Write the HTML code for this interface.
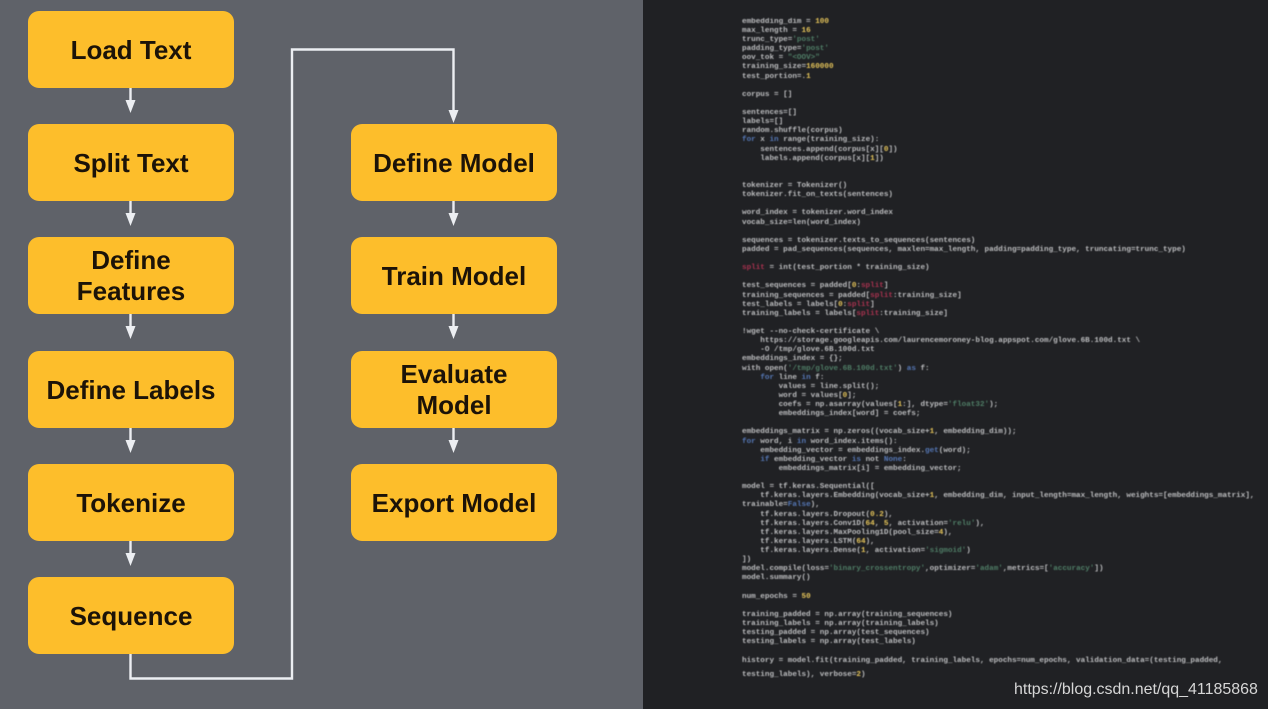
<!DOCTYPE html>
<html><head><meta charset="utf-8"><style>
html,body{margin:0;padding:0;width:1268px;height:709px;overflow:hidden;background:#202124}
#l{position:absolute;left:0;top:0;width:643px;height:709px;background:#5f6269}
.b{position:absolute;box-sizing:border-box;padding-top:1px;width:206px;height:77px;background:#fdbe2b;border-radius:11px;display:flex;align-items:center;justify-content:center;text-align:center;font:bold 26px/31px "Liberation Sans",sans-serif;color:#1c1308;filter:blur(.3px)}
svg{position:absolute;left:0;top:0;filter:blur(.3px)}
pre{position:absolute;left:742px;top:17.8px;margin:0;font:bold 7.63px/9.13px "Liberation Mono",monospace;color:#bdbec0;filter:blur(.45px)}
.n{color:#e6c55a}.s{color:#4f7d66}.k{color:#5577b5}.r{color:#a8324f}
#w{position:absolute;left:1014px;top:680px;font:15.97px/20px "Liberation Sans",sans-serif;color:#d6d6d6;white-space:nowrap}
</style></head><body>
<div id="l"></div>
<div class="b" style="left:28px;top:11px">Load Text</div>
<div class="b" style="left:28px;top:124px">Split Text</div>
<div class="b" style="left:28px;top:237px">Define<br>Features</div>
<div class="b" style="left:28px;top:351px">Define Labels</div>
<div class="b" style="left:28px;top:464px">Tokenize</div>
<div class="b" style="left:28px;top:577px">Sequence</div>
<div class="b" style="left:351px;top:124px">Define Model</div>
<div class="b" style="left:351px;top:237px">Train Model</div>
<div class="b" style="left:351px;top:351px">Evaluate<br>Model</div>
<div class="b" style="left:351px;top:464px">Export Model</div>
<svg width="643" height="709" fill="#eceef2" stroke="none">
<g stroke="#eceef2" stroke-width="2.4" fill="none">
<path d="M130.500 88V102M130.500 201V215M130.500 314V328M130.500 428V442M130.500 541V555"/>
<path d="M453.500 201V215M453.500 314V328M453.500 428V442"/>
<path d="M130.500 654V678.500H292V49.500H453.500V110"/>
</g>
<path d="M125.500 100H135.500L130.500 113ZM125.500 213H135.500L130.500 226ZM125.500 326H135.500L130.500 339ZM125.500 440H135.500L130.500 453ZM125.500 553H135.500L130.500 566Z"/>
<path d="M448.500 110H458.500L453.500 123ZM448.500 213H458.500L453.500 226ZM448.500 326H458.500L453.500 339ZM448.500 440H458.500L453.500 453Z"/>
</svg>
<pre>embedding_dim = <span class="n">100</span>
max_length = <span class="n">16</span>
trunc_type=<span class="s">'post'</span>
padding_type=<span class="s">'post'</span>
oov_tok = <span class="s">"&lt;OOV&gt;"</span>
training_size=<span class="n">160000</span>
test_portion=.<span class="n">1</span>

corpus = []

sentences=[]
labels=[]
random.shuffle(corpus)
<span class="k">for</span> x <span class="k">in</span> range(training_size):
    sentences.append(corpus[x][<span class="n">0</span>])
    labels.append(corpus[x][<span class="n">1</span>])


tokenizer = Tokenizer()
tokenizer.fit_on_texts(sentences)

word_index = tokenizer.word_index
vocab_size=len(word_index)

sequences = tokenizer.texts_to_sequences(sentences)
padded = pad_sequences(sequences, maxlen=max_length, padding=padding_type, truncating=trunc_type)

<span class="r">split</span> = int(test_portion * training_size)

test_sequences = padded[<span class="n">0</span>:<span class="r">split</span>]
training_sequences = padded[<span class="r">split</span>:training_size]
test_labels = labels[<span class="n">0</span>:<span class="r">split</span>]
training_labels = labels[<span class="r">split</span>:training_size]

!wget --no-check-certificate \
    https://storage.googleapis.com/laurencemoroney-blog.appspot.com/glove.6B.100d.txt \
    -O /tmp/glove.6B.100d.txt
embeddings_index = {};
with open(<span class="s">'/tmp/glove.6B.100d.txt'</span>) <span class="k">as</span> f:
    <span class="k">for</span> line <span class="k">in</span> f:
        values = line.split();
        word = values[<span class="n">0</span>];
        coefs = np.asarray(values[<span class="n">1</span>:], dtype=<span class="s">'float32'</span>);
        embeddings_index[word] = coefs;

embeddings_matrix = np.zeros((vocab_size+<span class="n">1</span>, embedding_dim));
<span class="k">for</span> word, i <span class="k">in</span> word_index.items():
    embedding_vector = embeddings_index.<span class="k">get</span>(word);
    <span class="k">if</span> embedding_vector <span class="k">is</span> not <span class="k">None</span>:
        embeddings_matrix[i] = embedding_vector;

model = tf.keras.Sequential([
    tf.keras.layers.Embedding(vocab_size+<span class="n">1</span>, embedding_dim, input_length=max_length, weights=[embeddings_matrix],
trainable=<span class="k">False</span>),
    tf.keras.layers.Dropout(<span class="n">0.2</span>),
    tf.keras.layers.Conv1D(<span class="n">64</span>, <span class="n">5</span>, activation=<span class="s">'relu'</span>),
    tf.keras.layers.MaxPooling1D(pool_size=<span class="n">4</span>),
    tf.keras.layers.LSTM(<span class="n">64</span>),
    tf.keras.layers.Dense(<span class="n">1</span>, activation=<span class="s">'sigmoid'</span>)
])
model.compile(loss=<span class="s">'binary_crossentropy'</span>,optimizer=<span class="s">'adam'</span>,metrics=[<span class="s">'accuracy'</span>])
model.summary()

num_epochs = <span class="n">50</span>

training_padded = np.array(training_sequences)
training_labels = np.array(training_labels)
testing_padded = np.array(test_sequences)
testing_labels = np.array(test_labels)

history = model.fit(training_padded, training_labels, epochs=num_epochs, validation_data=(testing_padded,
<span style="display:inline-block;height:14px;vertical-align:bottom;line-height:9.13px;padding-top:5px">testing_labels), verbose=<span class="n">2</span>)</span></pre>
<div id="w">https://blog.csdn.net/qq_41185868</div>
</body></html>
